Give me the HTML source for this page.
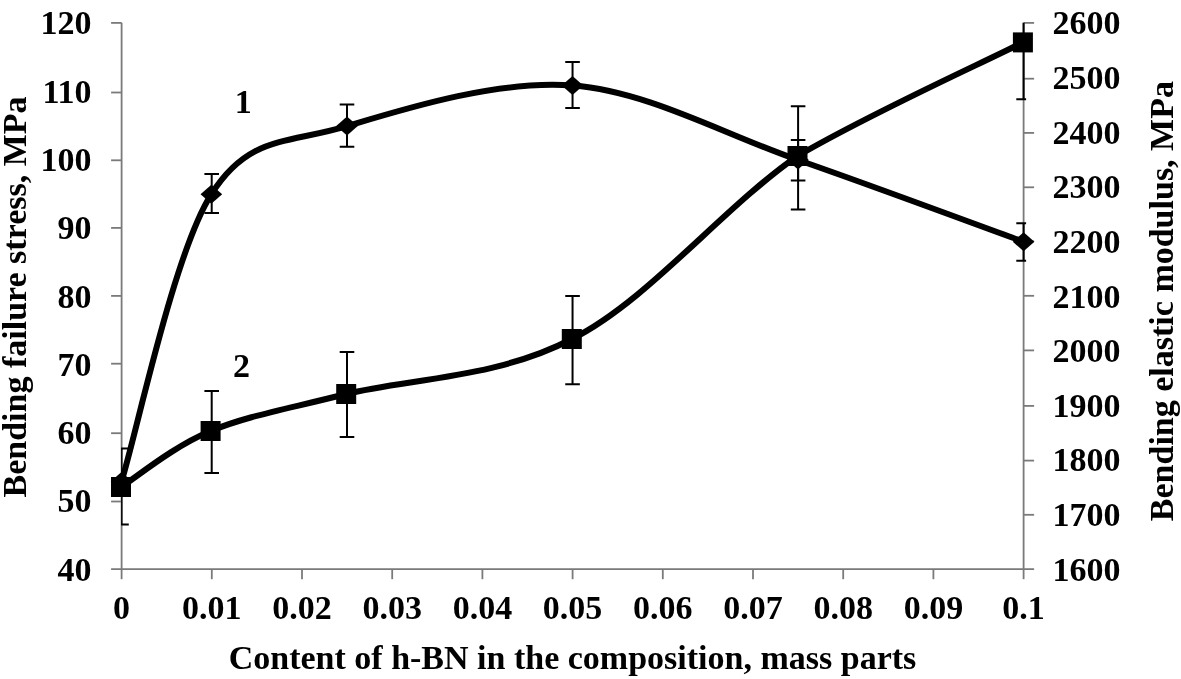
<!DOCTYPE html>
<html><head><meta charset="utf-8"><style>html,body{margin:0;padding:0;background:#fff;}svg{display:block;filter:blur(0.45px)}</style></head>
<body><svg width="1181" height="679" viewBox="0 0 1181 679">
<g stroke="#7a7a7a" stroke-width="1.8" fill="none">
<path d="M121.6,22.8 V569.2 M1023.6,22.8 V569.2 M111.1,569.2 H1034.1"/>
<path d="M111.1,22.90 H121.6"/>
<path d="M111.1,92.50 H121.6"/>
<path d="M111.1,160.30 H121.6"/>
<path d="M111.1,227.90 H121.6"/>
<path d="M111.1,295.90 H121.6"/>
<path d="M111.1,363.70 H121.6"/>
<path d="M111.1,433.20 H121.6"/>
<path d="M111.1,501.50 H121.6"/>
<path d="M1023.6,22.90 H1034.1"/>
<path d="M1023.6,78.70 H1034.1"/>
<path d="M1023.6,132.90 H1034.1"/>
<path d="M1023.6,187.30 H1034.1"/>
<path d="M1023.6,241.30 H1034.1"/>
<path d="M1023.6,295.80 H1034.1"/>
<path d="M1023.6,350.40 H1034.1"/>
<path d="M1023.6,405.90 H1034.1"/>
<path d="M1023.6,460.60 H1034.1"/>
<path d="M1023.6,514.80 H1034.1"/>
<path d="M121.60,569.2 V579.2"/>
<path d="M211.80,569.2 V579.2"/>
<path d="M302.00,569.2 V579.2"/>
<path d="M392.20,569.2 V579.2"/>
<path d="M482.40,569.2 V579.2"/>
<path d="M572.60,569.2 V579.2"/>
<path d="M662.80,569.2 V579.2"/>
<path d="M753.00,569.2 V579.2"/>
<path d="M843.20,569.2 V579.2"/>
<path d="M933.40,569.2 V579.2"/>
<path d="M1023.60,569.2 V579.2"/>
</g>
<defs><clipPath id="pc"><rect x="121.1" y="22.8" width="905.0" height="546.4000000000001"/></clipPath></defs>
<g clip-path="url(#pc)" stroke="#000" stroke-width="2" fill="none">
<path d="M211.70,173.90 V212.90"/><path d="M204.40,173.90 H219.00 M204.40,212.90 H219.00"/>
<path d="M347.00,104.40 V146.70"/><path d="M339.70,104.40 H354.30 M339.70,146.70 H354.30"/>
<path d="M572.55,62.10 V107.90"/><path d="M565.25,62.10 H579.85 M565.25,107.90 H579.85"/>
<path d="M798.10,140.10 V180.50"/><path d="M790.80,140.10 H805.40 M790.80,180.50 H805.40"/>
<path d="M1023.60,223.20 V260.70"/><path d="M1016.30,223.20 H1030.90 M1016.30,260.70 H1030.90"/>
<path d="M121.50,448.60 V524.40"/><path d="M114.20,448.60 H128.80 M114.20,524.40 H128.80"/>
<path d="M211.70,391.10 V472.90"/><path d="M204.40,391.10 H219.00 M204.40,472.90 H219.00"/>
<path d="M347.00,351.90 V436.90"/><path d="M339.70,351.90 H354.30 M339.70,436.90 H354.30"/>
<path d="M572.55,296.00 V384.20"/><path d="M565.25,296.00 H579.85 M565.25,384.20 H579.85"/>
<path d="M798.10,106.30 V209.60"/><path d="M790.80,106.30 H805.40 M790.80,209.60 H805.40"/>
<path d="M1023.60,-20.00 V99.20"/><path d="M1016.30,-20.00 H1030.90 M1016.30,99.20 H1030.90"/>
</g>
<path d="M121.50,481.50 C136.47,433.61 173.77,253.38 211.35,194.15 C248.93,134.92 286.81,144.20 347.00,126.10 C407.19,108.00 497.33,79.90 572.50,85.55 C647.67,91.20 722.82,133.96 798.00,160.00 C873.18,186.04 986.00,228.17 1023.60,241.80" fill="none" stroke="#000" stroke-width="6" stroke-linejoin="round"/>
<path d="M121.00,487.00 C135.93,477.67 173.07,446.50 210.60,431.00 C248.13,415.50 286.00,409.33 346.20,394.00 C406.40,378.67 496.58,378.67 571.80,339.00 C647.02,301.60 722.32,208.10 797.50,156.00 C872.68,112.10 985.33,61.60 1022.90,42.40" fill="none" stroke="#000" stroke-width="6" stroke-linejoin="round"/>
<path d="M121.5,472.0 L132.3,481.5 L121.5,491.0 L110.7,481.5 Z" fill="#000"/>
<path d="M211.35,184.65 L222.15,194.15 L211.35,203.65 L200.54999999999998,194.15 Z" fill="#000"/>
<path d="M347,116.6 L357.8,126.1 L347,135.6 L336.2,126.1 Z" fill="#000"/>
<path d="M572.5,76.05 L583.3,85.55 L572.5,95.05 L561.7,85.55 Z" fill="#000"/>
<path d="M798,150.5 L808.8,160 L798,169.5 L787.2,160 Z" fill="#000"/>
<path d="M1023.6,232.3 L1034.4,241.8 L1023.6,251.3 L1012.8000000000001,241.8 Z" fill="#000"/>
<rect x="111" y="477" width="20" height="20" fill="#000"/>
<rect x="200.6" y="421" width="20" height="20" fill="#000"/>
<rect x="336.2" y="384" width="20" height="20" fill="#000"/>
<rect x="561.8" y="329" width="20" height="20" fill="#000"/>
<rect x="787.5" y="146" width="20" height="20" fill="#000"/>
<rect x="1012.9" y="32.4" width="20" height="20" fill="#000"/>
<g font-family="&quot;Liberation Serif&quot;, serif" font-weight="bold" font-size="34" fill="#000">
<text x="91.6" y="580.7" text-anchor="end">40</text>
<text x="91.6" y="512.4" text-anchor="end">50</text>
<text x="91.6" y="444.1" text-anchor="end">60</text>
<text x="91.6" y="375.8" text-anchor="end">70</text>
<text x="91.6" y="307.5" text-anchor="end">80</text>
<text x="91.6" y="239.2" text-anchor="end">90</text>
<text x="91.6" y="170.9" text-anchor="end">100</text>
<text x="91.6" y="102.6" text-anchor="end">110</text>
<text x="91.6" y="34.3" text-anchor="end">120</text>
<text x="1052.6" y="580.7">1600</text>
<text x="1052.6" y="526.1">1700</text>
<text x="1052.6" y="471.4">1800</text>
<text x="1052.6" y="416.8">1900</text>
<text x="1052.6" y="362.1">2000</text>
<text x="1052.6" y="307.5">2100</text>
<text x="1052.6" y="252.9">2200</text>
<text x="1052.6" y="198.2">2300</text>
<text x="1052.6" y="143.6">2400</text>
<text x="1052.6" y="88.9">2500</text>
<text x="1052.6" y="34.3">2600</text>
<text x="121.6" y="619.2" text-anchor="middle">0</text>
<text x="211.8" y="619.2" text-anchor="middle">0.01</text>
<text x="302.0" y="619.2" text-anchor="middle">0.02</text>
<text x="392.2" y="619.2" text-anchor="middle">0.03</text>
<text x="482.4" y="619.2" text-anchor="middle">0.04</text>
<text x="572.6" y="619.2" text-anchor="middle">0.05</text>
<text x="662.8" y="619.2" text-anchor="middle">0.06</text>
<text x="753.0" y="619.2" text-anchor="middle">0.07</text>
<text x="843.2" y="619.2" text-anchor="middle">0.08</text>
<text x="933.4" y="619.2" text-anchor="middle">0.09</text>
<text x="1023.6" y="619.2" text-anchor="middle">0.1</text>
<text x="572.5" y="668.8" text-anchor="middle">Content of h-BN in the composition, mass parts</text>
<text transform="translate(26.0,297) rotate(-90)" text-anchor="middle">Bending failure stress, MPa</text>
<text transform="translate(1173.1,301.1) rotate(-90)" text-anchor="middle">Bending elastic modulus, MPa</text>
<text x="243.2" y="113.3" text-anchor="middle">1</text>
<text x="241.6" y="376.5" text-anchor="middle">2</text>
</g>
</svg></body></html>
